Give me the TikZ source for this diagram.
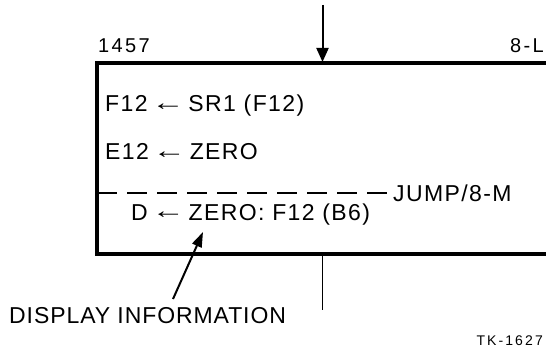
\documentclass[tikz,border=0pt]{standalone}
\usepackage{fontspec}
\setmainfont{Liberation Sans}
\usepackage{tikz}
\usetikzlibrary{arrows.meta}

\newcommand{\larrow}{\kern-4pt\raisebox{1.5pt}{\scalebox{1.45}[1]{←}}\kern-4pt}

\begin{document}
\begin{tikzpicture}[x=1pt, y=1pt,
    txt/.style={anchor=base west, inner sep=0pt, font=\fontsize{23}{27}\selectfont\addfontfeatures{LetterSpace=6}},
    note/.style={anchor=base west, inner sep=0pt, font=\fontsize{23}{27}\selectfont\addfontfeatures{LetterSpace=4}},
    lbl/.style={anchor=base west, inner sep=0pt, font=\fontsize{20}{24}\selectfont\addfontfeatures{LetterSpace=12}},
    tip/.style={-{Triangle[length=14pt, width=12pt]}}]
    \useasboundingbox (0,0) rectangle (546,-350);

    % box
    \coordinate (tr) at (546,-63);
    \coordinate (tl) at (97,-63);
    \coordinate (bl) at (97,-254);
    \coordinate (br) at (546,-254);
    \draw[line width=3.5pt] (tr) -- (tl) -- (bl) -- (br);

    % labels over the box
    \node[lbl] (num) at (98,-52.5) {1457};
    \node[lbl, anchor=base east] (page) at (544,-52.5) {8-L};

    % entry and exit
    \coordinate (in) at (322.5,-5);
    \coordinate (top) at (322.5,-62);
    \draw[line width=2pt, tip] (in) -- (top);
    \coordinate (bot) at (322.5,-254);
    \coordinate (out) at (322.5,-310);
    \draw[line width=1.6pt] (bot) -- (out);

    % statements
    \node[txt] (s1) at (105,-112) {F12 \larrow{} SR1 (F12)};
    \node[txt] (s2) at (105,-160) {E12 \larrow{} ZERO};
    \coordinate (d1) at (97,-193);
    \coordinate (d2) at (388,-193);
    \draw[line width=2pt, dash pattern=on 20pt off 10pt] (d1) -- (d2);
    \node[txt, anchor=west] (jump) at (393,-193) {JUMP/8-M};
    \node[txt] (s3) at (131,-220) {D \larrow{} ZERO: F12 (B6)};

    % display note
    \node[note] (disp) at (9,-323) {DISPLAY INFORMATION};
    \coordinate (dtail) at (173,-299);
    \coordinate (dtip) at (203,-232);
    \draw[line width=2pt, -{Triangle[length=15pt, width=10pt]}] (dtail) -- (dtip);

    \node[anchor=base east, inner sep=0pt, font=\fontsize{14}{16}\selectfont\addfontfeatures{LetterSpace=15}] (tk) at (543,-345) {TK-1627};
\end{tikzpicture}
\end{document}
